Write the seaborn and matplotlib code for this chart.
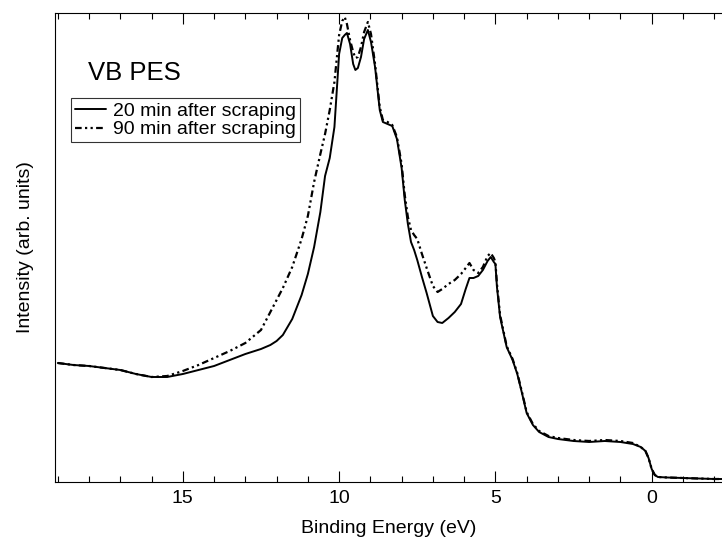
import numpy as np
import pandas as pd
import matplotlib
matplotlib.use("Agg")
import matplotlib.pyplot as plt
import seaborn as sns
from matplotlib.ticker import MultipleLocator

energy = [19.0, 18.5, 18.0, 17.5, 17.0, 16.5, 16.0, 15.5, 15.0, 14.5, 14.0, 13.5, 13.0,
          12.5, 12.2, 12.0, 11.8, 11.5, 11.2, 11.0, 10.8, 10.6, 10.45, 10.3, 10.15, 10.0,
          9.9, 9.82, 9.75, 9.65, 9.55, 9.48, 9.4, 9.3, 9.2, 9.08, 8.98, 8.85, 8.7, 8.6,
          8.45, 8.3, 8.15, 8.0, 7.9, 7.8, 7.7, 7.6, 7.5, 7.35, 7.2, 7.0, 6.85, 6.7, 6.5,
          6.3, 6.1, 5.95, 5.83, 5.7, 5.55, 5.4, 5.25, 5.15, 5.05, 5.0, 4.95, 4.85, 4.64,
          4.45, 4.3, 4.15, 4.0, 3.8, 3.6, 3.3, 3.0, 2.5, 2.0, 1.5, 1.0, 0.6, 0.35, 0.2,
          0.1, 0.0, -0.1, -0.2, -0.5, -1.0, -1.5, -2.0, -2.3]

int_20min = [119, 117, 116, 114, 112, 108, 105, 105, 108, 112, 116, 122, 128,
             133, 137, 141, 147, 163, 187, 208, 235, 270, 306, 324, 355, 428,
             444, 447, 449, 438, 418, 412, 414, 425, 443, 452, 440, 415, 372, 360,
             358, 356, 343, 314, 282, 258, 240, 232, 222, 205, 189, 166, 160, 159, 164,
             170, 178, 193, 204, 204, 206, 212, 221, 225, 220, 218, 195, 165, 135,
             122, 108, 89, 69, 57, 50, 45, 43, 41, 40, 41, 40, 38, 35, 31,
             24, 13, 7, 5, 4.5, 4, 3.5, 3, 3]

int_90min = [119, 117, 116, 114, 112, 108, 105, 106, 111, 117, 124, 131, 139,
             152, 170, 182, 194, 215, 243, 266, 300, 328, 348, 372, 400, 447,
             461, 465, 458, 442, 430, 424, 425, 435, 450, 460, 448, 418, 375, 362,
             360, 357, 345, 318, 287, 265, 252, 247, 243, 228, 214, 196, 190, 193, 198,
             202, 208, 214, 219, 212, 209, 215, 226, 229, 224, 220, 198, 167, 136,
             123, 109, 90, 70, 58, 51, 46, 44, 42, 41, 42, 41, 39, 35, 31,
             24, 13, 7, 5, 4.5, 4, 3.5, 3, 3]

labels = ["20 min after scraping", "90 min after scraping"]

sns.set_theme(style="ticks")
plt.rcParams['font.family'] = ['Liberation Sans', 'DejaVu Sans']
plt.rcParams['text.color'] = 'black'
plt.rcParams['axes.labelcolor'] = 'black'
plt.rcParams['xtick.color'] = 'black'
plt.rcParams['ytick.color'] = 'black'

fig = plt.figure(figsize=(7.22, 5.38), dpi=100)
ax = fig.add_axes([55/722, (538-482)/538, (722-55)/722, (482-13)/538])

df = pd.DataFrame({"E": energy, "a": int_20min, "b": int_90min})
sns.lineplot(data=df, x="E", y="a", ax=ax, sort=False, color="black", lw=1.4,
             label=labels[0])
sns.lineplot(data=df, x="E", y="b", ax=ax, sort=False, color="black", lw=1.6,
             linestyle=(0, (3, 1.5, 1, 1.5, 1, 1.5)), label=labels[1])

ax.set_xlim(19.09, -2.25)
ax.set_ylim(0, 469)
ax.set_yticks([])
ax.xaxis.set_major_locator(MultipleLocator(5))
ax.xaxis.set_minor_locator(MultipleLocator(1))
ax.tick_params(axis="x", which="both", direction="in", top=True, bottom=True,
               width=0.8, labelsize=14, pad=6, colors="black")
ax.tick_params(axis="x", which="major", length=8)
ax.tick_params(axis="x", which="minor", length=4)
for s in ["left", "bottom", "top"]:
    ax.spines[s].set_linewidth(0.8)
    ax.spines[s].set_color("black")
ax.spines["right"].set_visible(False)

ax.set_xlabel("Binding Energy (eV)", fontsize=14, labelpad=9)
ax.set_ylabel("Intensity (arb. units)", fontsize=14, labelpad=15)

ax.text((88-55)/667, (482-80)/469, "VB PES", transform=ax.transAxes,
        fontsize=18.5, va="baseline", ha="left", color="black")

leg = ax.legend(loc="upper left", bbox_to_anchor=((70.7-55)/667, (482-98.3)/469),
                borderaxespad=0, fontsize=14, frameon=True, fancybox=False,
                borderpad=0.2, handlelength=1.6, handletextpad=0.4,
                labelspacing=0.05)
leg.get_frame().set_edgecolor("black")
leg.get_frame().set_linewidth(0.8)
for t in leg.get_texts():
    t.set_color("black")

fig.savefig("out.png", dpi=100)
